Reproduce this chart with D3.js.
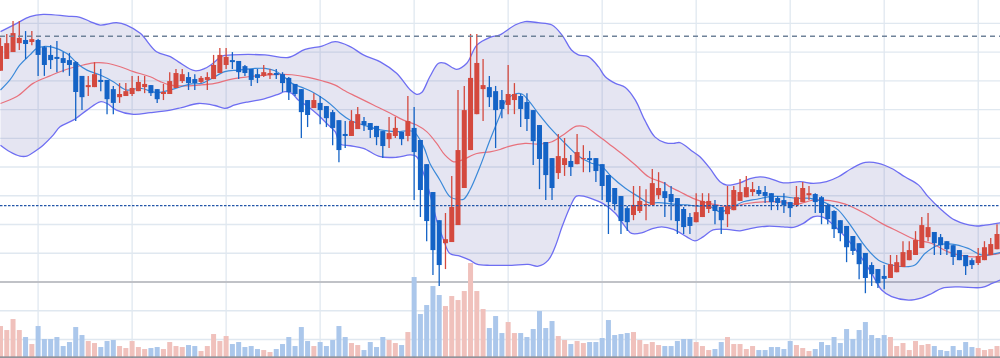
<!DOCTYPE html>
<html><head><meta charset="utf-8">
<script src="https://cdn.jsdelivr.net/npm/d3@7/dist/d3.min.js"></script>
<style>html,body{margin:0;padding:0;background:#fff;overflow:hidden}</style>
</head><body><svg id="c" width="1000" height="358"></svg>
<script>
const open=[173.5,177.6,180.0,183.1,184.2,183.5,184.2,181.7,179.0,178.3,
177.9,177.2,176.5,171.7,167.8,167.8,170.3,170.3,167.1,164.3,
164.7,165.4,166.4,167.8,168.5,167.1,165.4,165.4,167.5,169.9,
171.3,170.6,169.6,170.3,170.6,172.7,175.5,177.2,176.9,175.1,
174.1,172.3,171.7,172.0,172.7,172.3,171.0,168.9,167.1,163.3,
160.5,162.3,161.2,159.1,156.3,151.5,150.8,153.2,156.0,155.3,
154.3,152.5,149.7,150.8,152.2,150.8,153.6,149.4,141.0,131.3,
121.5,113.5,113.9,119.8,132.7,145.9,158.4,167.1,167.8,166.4,
163.3,161.6,163.3,164.7,162.6,159.8,154.6,148.7,143.1,137.9,
140.7,142.1,141.0,142.8,143.1,143.1,141.0,137.2,132.7,129.9,
125.7,123.3,124.7,126.8,126.8,130.2,131.6,130.6,129.2,125.4,
122.6,120.8,122.6,125.4,126.8,126.1,123.6,125.0,128.2,129.5,
131.3,132.0,131.3,130.9,129.2,128.5,127.8,126.8,127.8,130.2,
130.6,129.5,126.8,124.7,121.5,119.5,116.0,113.5,110.1,105.9,
104.5,102.1,101.4,103.4,105.2,107.6,109.4,111.8,115.6,117.4,
115.6,114.2,112.8,111.1,109.4,107.6,106.6,107.6,109.4,111.4];
const close=[182.1,183.1,186.6,184.9,182.8,184.5,179.0,175.5,177.2,177.6,
176.2,175.5,166.1,164.3,168.5,172.3,169.6,163.6,162.3,165.4,
166.4,167.5,169.6,168.9,165.7,163.6,166.1,169.9,172.7,172.3,
169.2,169.2,171.0,171.3,175.5,179.0,178.3,176.5,173.0,172.7,
170.3,171.0,173.0,172.7,172.0,169.2,166.1,165.4,159.1,158.1,
163.3,159.8,157.0,153.6,145.9,150.8,156.0,158.4,154.6,152.9,
150.4,147.3,151.8,153.6,149.7,156.0,145.2,132.0,121.2,111.1,
105.9,114.9,126.1,145.9,159.8,171.0,176.2,168.5,164.3,159.8,
160.2,165.4,165.4,160.2,156.7,149.0,142.8,137.2,132.7,143.8,
143.1,140.0,145.2,143.1,142.4,138.6,133.4,127.8,127.1,121.2,
120.8,126.8,128.2,127.1,134.4,132.7,129.2,127.8,121.2,119.1,
119.5,124.3,128.2,128.2,124.7,121.5,126.4,132.0,131.3,133.0,
132.3,130.6,129.9,127.8,127.5,126.8,125.7,129.5,132.7,130.9,
127.8,124.0,121.9,118.4,117.0,112.1,110.8,106.2,101.4,102.7,
99.6,101.1,106.2,106.9,110.4,111.1,114.6,119.8,119.1,113.5,
112.8,111.4,108.7,107.6,105.5,105.9,109.0,112.1,113.2,116.7];
const high=[185.0,186.3,190.8,190.8,187.3,187.3,184.5,182.1,182.4,183.8,
180.0,179.7,176.9,171.7,171.7,176.5,174.1,170.3,168.2,169.2,
169.2,171.7,171.7,171.7,168.5,167.1,168.9,173.0,174.1,174.1,
173.0,172.3,171.7,173.0,179.0,181.4,181.4,180.0,176.9,175.5,
174.1,174.1,175.5,174.1,174.1,173.0,171.3,168.9,167.1,163.3,
165.7,164.7,161.2,159.8,156.3,156.0,159.8,160.9,157.4,155.3,
154.3,152.5,157.4,157.4,152.2,164.7,160.9,149.4,141.0,131.3,
121.5,124.0,136.9,166.8,168.2,186.3,186.3,177.6,171.7,168.2,
166.8,175.5,169.2,165.4,165.7,159.8,154.6,148.7,143.1,151.5,
150.1,144.2,151.5,147.6,145.6,143.1,141.0,137.2,132.7,129.9,
126.4,133.4,133.4,132.3,139.3,138.2,134.8,133.4,129.2,126.1,
124.0,130.9,130.9,130.9,128.5,126.1,133.4,133.4,135.8,136.9,
134.8,133.4,133.4,130.9,129.9,130.9,127.8,133.4,134.8,133.4,
130.9,129.9,127.1,125.0,121.5,119.5,116.0,113.5,110.1,106.9,
104.5,105.9,109.4,109.4,114.2,114.2,117.7,122.6,124.0,117.4,
116.7,114.2,112.8,111.1,109.4,108.3,111.8,114.2,115.3,120.1];
const low=[173.5,177.6,180.0,180.7,177.6,182.4,171.7,171.7,174.1,173.0,
173.0,171.7,156.0,159.8,164.7,167.8,166.4,158.4,158.4,162.3,
164.7,164.7,166.4,165.7,164.7,162.3,163.3,165.4,167.5,169.2,
166.8,166.8,169.2,166.8,170.6,172.7,174.1,174.1,170.6,171.7,
168.2,169.2,171.3,170.6,170.6,166.1,163.3,164.7,150.1,153.9,
160.5,154.9,153.9,147.6,141.7,146.6,150.8,153.2,152.5,150.1,
147.6,143.1,146.6,150.1,147.6,149.0,128.5,122.6,114.2,102.4,
98.6,104.5,113.9,119.8,132.7,145.9,158.4,156.0,160.9,146.6,
157.0,158.4,158.4,153.9,152.5,140.7,132.3,128.5,128.5,135.8,
136.9,136.9,141.0,138.2,138.2,134.8,128.5,116.7,125.0,116.7,
117.7,121.5,124.0,121.5,126.8,128.8,122.6,121.5,116.7,116.7,
116.7,120.8,122.6,124.0,120.1,116.7,119.1,125.0,128.2,129.5,
129.9,129.9,127.5,125.0,125.0,124.0,122.6,126.1,127.8,128.5,
124.0,120.1,120.1,115.3,114.2,106.9,109.4,101.0,96.1,98.6,
97.9,97.5,101.4,103.4,105.2,107.6,109.4,111.8,114.2,109.4,
109.4,109.4,105.9,107.6,102.4,104.5,105.9,107.6,109.4,111.4];
const volume=[920,800,1130,800,590,380,920,530,530,590,
320,440,890,650,470,410,290,470,500,320,
260,470,290,230,260,290,230,440,320,290,
350,320,170,320,680,470,620,380,440,290,
320,230,200,140,230,380,590,320,890,470,
320,440,320,500,920,590,410,350,200,440,
290,590,500,410,350,740,2390,1280,1550,2120,
1850,1520,1820,1700,1970,2810,1970,1430,860,1220,
710,1040,710,710,590,830,1370,860,1070,620,
500,380,470,410,440,440,560,1100,650,680,
710,740,500,380,440,350,320,320,470,530,
530,440,320,200,230,440,590,380,380,230,
320,200,200,290,290,230,470,350,260,170,
230,440,350,590,410,830,530,800,1040,650,
560,650,590,320,410,200,470,350,380,320,
200,170,320,200,440,290,260,200,230,320];
// Bollinger upper / lower band, middle band (MA20) and short MA, as [candle index, value]
const upperBand=[[0,187.1],[2.6,190.0],[4.7,192.3],[6.8,193.1],[10.6,192.5],[12.7,192.1],[14.3,190.6],[15.9,189.4],[18.5,190.2],[20.1,189.4],[22.3,186.5],[24.9,180.1],[27.1,178.4],
[28.4,176.6],[31.0,173.5],[32.6,174.3],[34.2,176.6],[35.3,178.6],[36.9,179.0],[42.2,179.0],[45.9,178.1],[48.6,180.9],[51.3,182.1],[53.4,183.6],
[55.8,181.9],[57.9,179.0],[60.6,176.6],[63.2,172.6],[65.4,166.8],[66.4,165.3],[67.2,165.9],[68.5,171.4],[69.9,176.1],[70.9,176.1],[72.8,174.0],[74.4,176.1],[76.0,182.4],[78.1,185.1],[79.7,186.0],
[82.1,189.4],[83.7,190.6],[85.8,190.2],[88.0,189.4],[89.6,185.9],[91.1,180.7],[92.2,179.0],[93.8,178.4],[95.4,174.9],[96.5,171.4],[98.1,169.1],[99.7,167.7],[101.3,163.3],[102.8,156.3],[104.4,150.5],[106.0,148.5],
[107.4,148.2],[108.4,148.5],[110.5,145.3],[111.6,143.6],[113.2,139.5],[114.8,134.9],[115.9,133.7],[118.0,134.5],[119.6,136.0],[121.2,136.6],[122.8,136.0],[124.9,134.5],[127.6,134.9],[129.7,134.3],[131.8,134.9],
[133.7,136.6],[135.8,139.5],[138.0,141.6],[140.1,141.3],[142.2,139.5],[144.3,136.6],[146.5,133.7],[148.0,129.7],[150.2,125.0],[152.3,121.5],[155.5,119.5],[157.1,119.8],[159.5,120.6]];
const lowerBand=[[0,147.6],[1.5,145.3],[3.1,143.8],[4.2,143.8],[5.8,145.9],[6.8,147.6],[8.4,151.1],[9.5,154.0],[11.6,156.3],[13.8,159.8],[15.9,162.7],[17.0,162.1],[18.5,159.8],[21.2,158.3],[23.9,158.9],[27.1,159.8],
[28.9,160.7],[31.6,162.1],[34.2,161.4],[35.8,160.4],[37.4,161.6],[39.6,162.7],[42.2,163.8],[44.3,165.3],[45.4,166.2],[46.5,165.6],[47.5,163.3],[49.1,161.0],[50.7,158.1],[52.3,154.6],[53.4,152.3],
[54.2,148.0],[55.8,147.4],[57.9,146.5],[60.6,143.6],[63.2,143.4],[65.4,144.2],[66.4,143.6],[67.5,137.8],[68.5,130.8],[69.6,121.5],[70.7,114.6],[71.7,109.9],[73.3,109.0],[74.9,107.6],[76.0,106.2],[78.1,105.8],[79.7,105.8],
[81.6,105.8],[84.2,106.1],[85.8,105.5],[87.4,107.6],[88.5,112.3],[89.6,119.2],[90.9,126.2],[91.9,129.9],[93.3,129.7],[94.9,128.5],[96.5,126.8],[98.1,123.9],[99.7,119.2],[100.7,116.9],[102.3,117.1],[103.9,118.5],[105.5,119.2],
[107.4,118.3],[109.5,115.7],[110.8,114.3],[112.1,115.7],[113.7,118.1],[115.9,118.3],[118.0,117.8],[119.6,118.6],[122.3,119.4],[124.9,119.2],[126.5,119.0],[128.1,120.4],[129.7,122.7],[131.3,122.5],
[133.2,119.2],[134.8,115.7],[136.9,109.9],[139.0,103.0],[140.6,97.2],[142.2,94.9],[144.9,93.7],[147.0,94.5],[148.6,96.0],[150.2,97.8],[152.8,98.3],[156.6,98.1],[158.2,99.5],[159.5,100.7]];
const midBand=[[0,162.1],[2.6,164.5],[5.2,169.1],[7.9,171.7],[10.6,174.0],[13.2,175.5],[15.3,176.3],[17.0,176.1],[19.1,174.9],[21.2,173.2],[23.9,171.4],[25.5,169.7],[27.1,168.5],
[29.4,168.2],[31.6,168.5],[34.2,169.1],[36.9,170.6],[39.5,171.4],[42.2,172.0],[44.9,172.2],[46.5,172.1],[49.1,171.2],[51.3,170.0],[53.4,168.5],
[54.7,166.8],[56.8,164.5],[59.5,161.6],[62.2,158.7],[64.3,156.3],[66.4,154.6],[68.0,152.3],[69.6,148.2],[70.9,144.2],[72.3,141.8],[73.6,142.4],[76.0,144.7],[78.1,145.3],[79.7,146.1],
[81.0,147.1],[83.7,148.2],[85.8,148.0],[88.0,148.8],[90.1,151.7],[91.9,154.2],[93.3,154.0],[94.9,151.7],[97.0,148.2],[99.1,144.7],[101.3,140.7],[103.4,136.6],[106.0,134.3],
[106.8,133.1],[108.4,131.4],[110.5,129.1],[112.1,127.9],[114.3,126.8],[116.4,126.2],[119.1,127.3],[121.7,127.9],[124.4,127.9],[127.0,127.1],[129.7,128.5],[132.4,128.3],
[134.8,127.1],[137.9,123.9],[140.6,120.4],[143.3,117.5],[145.9,114.8],[148.6,113.4],[151.2,110.5],[153.9,109.0],[156.0,108.8],[159.5,110.0]];
const maShort=[[0,166.8],[1.5,170.3],[3.1,175.5],[4.7,179.0],[5.8,181.3],[6.8,181.9],[8.4,181.6],[10.6,179.5],[12.2,176.1],[13.8,173.7],[15.9,172.0],[18.0,169.7],[20.1,166.8],[22.3,167.4],[24.9,165.9],[27.1,166.8],
[28.4,167.7],[30.5,168.9],[32.1,169.1],[33.7,170.8],[35.8,173.2],[37.9,173.7],[40.6,174.3],[42.2,174.3],[43.8,173.5],[44.9,172.0],[46.5,169.1],[48.1,167.7],[49.7,166.2],[51.8,163.3],[53.4,160.4],
[54.2,158.7],[55.8,156.3],[57.9,154.6],[60.6,152.9],[63.2,152.3],[65.9,152.3],[67.5,147.1],[68.5,141.3],[70.1,135.5],[71.7,129.7],[73.0,128.7],[73.9,128.8],[74.9,132.0],[76.5,140.1],[78.1,149.4],[79.7,158.1],
[80.5,162.7],[82.1,165.4],[83.2,165.4],[84.2,163.3],[85.8,158.7],[88.0,152.9],[90.1,148.2],[92.2,143.8],[94.3,141.3],[95.9,140.3],[97.5,136.6],[99.7,132.6],[101.8,129.7],[103.4,127.6],[105.0,127.6],
[107.4,127.1],[109.5,126.8],[111.1,126.4],[113.2,126.2],[114.8,124.4],[116.4,125.6],[118.5,127.9],[120.7,128.8],[122.8,129.7],[124.9,129.7],[127.0,129.1],[129.2,129.1],[132.4,126.8],
[133.7,125.0],[135.8,119.2],[138.0,112.3],[140.1,107.6],[142.2,105.9],[144.3,105.3],[145.9,105.9],[147.5,109.9],[149.6,112.8],[151.8,113.2],[154.4,111.7],[156.6,109.4],[159.5,110.2]];
const priceTicks=[80,90,100,110,120,130,140,150,160,170,180,190];
const xTickIdx=[6,21,36,51,66,81,96,111,126,141,156];
const highLine=185.5;   // dashed reference
const lastLine=126.6;   // dotted reference
const baseLine=100;     // grey reference

const svg=d3.select('#c');
const x=d3.scaleLinear().domain([0,159]).range([0.5,997]);
const y=d3.scaleLinear().domain([100,190]).range([282,23.3]);
const yv=d3.scaleLinear().domain([0,3000]).range([356.7,256.7]);

const UP='#d4493e', DOWN='#1463c6', VUP='#f0c1bc', VDOWN='#abc7eb';

// grid
const g=svg.append('g');
g.selectAll('.hy').data(priceTicks).join('line').attr('x1',0).attr('x2',1000)
 .attr('y1',d=>y(d)).attr('y2',d=>y(d)).attr('stroke','#e0e8f0').attr('stroke-width',1.3);
g.selectAll('.vx').data(xTickIdx).join('line').attr('y1',0).attr('y2',358)
 .attr('x1',d=>x(d)).attr('x2',d=>x(d)).attr('stroke','#e0e8f0').attr('stroke-width',1.3);
g.append('line').attr('x1',0).attr('x2',1000).attr('y1',y(baseLine)).attr('y2',y(baseLine))
 .attr('stroke','#b3b3b8').attr('stroke-width',1.4);

// volume
const idx=d3.range(open.length);
svg.append('g').selectAll('rect').data(idx).join('rect')
 .attr('x',i=>x(i)-2.5).attr('width',5)
 .attr('y',i=>yv(volume[i])).attr('height',i=>yv(0)-yv(volume[i]))
 .attr('fill',i=>close[i]>=open[i]?VUP:VDOWN);

// bands
const cr=d3.curveCatmullRom.alpha(0.5);
const ln=d3.line().x(d=>x(d[0])).y(d=>y(d[1])).curve(cr);
const upD=ln(upperBand);
const loRev=ln(lowerBand.slice().reverse());
svg.append('path').attr('d',upD+'L'+loRev.slice(1)+'Z').attr('fill','rgba(95,95,175,0.16)');
svg.append('path').attr('d',upD).attr('fill','none').attr('stroke','#6e6ef2').attr('stroke-width',1.3);
svg.append('path').attr('d',ln(lowerBand)).attr('fill','none').attr('stroke','#6e6ef2').attr('stroke-width',1.3);
svg.append('path').attr('d',ln(midBand)).attr('fill','none').attr('stroke','#e8717c').attr('stroke-width',1.2);
svg.append('path').attr('d',ln(maShort)).attr('fill','none').attr('stroke','#3a89d9').attr('stroke-width',1.2);

// candles
const cg=svg.append('g');
cg.selectAll('line').data(idx).join('line')
 .attr('x1',i=>x(i)).attr('x2',i=>x(i)).attr('y1',i=>y(high[i])).attr('y2',i=>y(low[i]))
 .attr('stroke',i=>close[i]>=open[i]?UP:DOWN).attr('stroke-width',1.3);
cg.selectAll('rect').data(idx).join('rect')
 .attr('x',i=>x(i)-2.5).attr('width',5)
 .attr('y',i=>y(Math.max(open[i],close[i])))
 .attr('height',i=>Math.max(1,Math.abs(y(open[i])-y(close[i]))))
 .attr('fill',i=>close[i]>=open[i]?UP:DOWN);

// reference lines
svg.append('line').attr('x1',0).attr('x2',1000).attr('y1',y(highLine)).attr('y2',y(highLine))
 .attr('stroke','#6f8299').attr('stroke-width',1.3).attr('stroke-dasharray','5,4');
svg.append('line').attr('x1',0).attr('x2',1000).attr('y1',y(lastLine)).attr('y2',y(lastLine))
 .attr('stroke','#2356a8').attr('stroke-width',1.2).attr('stroke-dasharray','2.5,1.5');
svg.append('line').attr('x1',0).attr('x2',1000).attr('y1',357.2).attr('y2',357.2)
 .attr('stroke','#6e7079').attr('stroke-width',1.2);
</script></body></html>
